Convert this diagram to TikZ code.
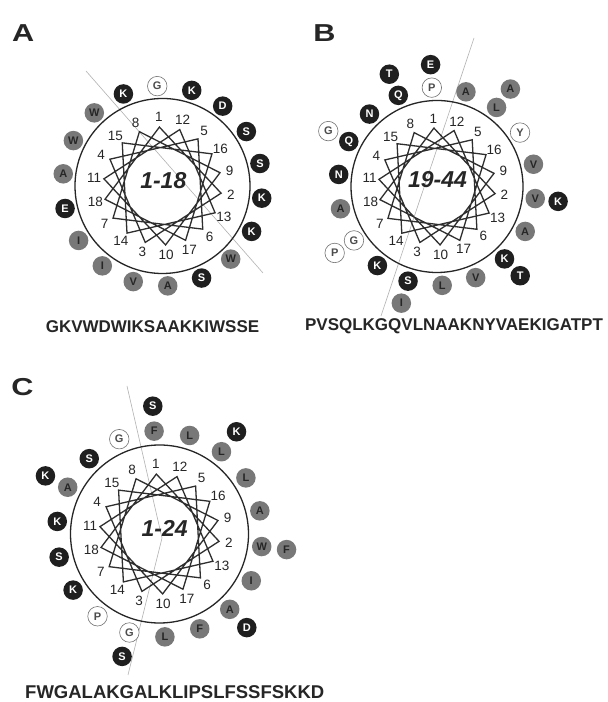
\documentclass[tikz,border=0pt]{standalone}
\usepackage{fontspec}
\setmainfont{Liberation Sans}
\begin{document}
\begin{tikzpicture}[x=1pt,y=1pt,
  res/.style={circle, minimum size=19.5pt, inner sep=0pt, font=\fontsize{11}{11}\selectfont\bfseries},
  rb/.style={res, fill=black!88, text=white},
  rg/.style={res, fill=black!53, text=black!85},
  rw/.style={res, fill=white, draw=black!55, line width=0.6pt, text=black!70},
  num/.style={font=\fontsize{13.5}{14}\selectfont, text=black!85, inner sep=0pt},
  wheel/.style={line width=1.3pt, draw=black!85},
  starline/.style={line width=1.3pt, draw=black!82, line join=miter},
  hline/.style={line width=0.6pt, draw=black!30},
  panel/.style={font=\fontsize{24.5}{24.5}\selectfont\bfseries, text=black!85, inner sep=0pt},
  seqtext/.style={font=\fontsize{17}{17}\selectfont\bfseries, text=black!85, inner sep=0pt},
  midlab/.style={font=\fontsize{23}{23}\selectfont\bfseries\itshape, text=black!85, inner sep=0pt}]
\useasboundingbox (0,0) rectangle (608,702);
\fill[white] (0,0) rectangle (608,702);

% ---------------- Panel A ----------------
\coordinate (A-h1) at (86,631);
\coordinate (A-h2) at (263,429);
\draw[hline] (A-h1) -- (A-h2);
\begin{scope}[shift={(162.5,516)}, rotate=3]
  \draw[wheel] (0,0) circle (87.5pt);
  \draw[starline] (90:59) \foreach \i in {1,...,17} { -- ({90-\i*100}:59) } -- cycle;
  \foreach \i in {1,...,18} \node[num] (A-n\i) at ({90-(\i-1)*100}:69) {\i};
  \foreach \i/\a/\s in {1/G/rw,2/K/rb,3/V/rg,4/W/rg,5/D/rb,6/W/rg,7/I/rg,8/K/rb,9/S/rb,
    10/A/rg,11/A/rg,12/K/rb,13/K/rb,14/I/rg,15/W/rg,16/S/rb,17/S/rb,18/E/rb}
    \node[\s] (A-r\i) at ({90-(\i-1)*100}:100) {\a};
\end{scope}
\node[midlab] (A-lab) at (163.3,521.2) {1-18};
\node[panel] (A-title) at (23.3,668.7) {\scalebox{1.25}[1]{A}};
\node[seqtext] (A-seq) at (152.5,375.3) {GKVWDWIKSAAKKIWSSE};

% ---------------- Panel B ----------------
\coordinate (B-h1) at (474,664);
\coordinate (B-h2) at (381,386);
\draw[hline] (B-h1) -- (B-h2);
\begin{scope}[shift={(437,515.5)}, rotate=3]
  \draw[wheel] (0,0) circle (86pt);
  \draw[starline] (90:58.5) \foreach \i in {1,...,17} { -- ({90-\i*100}:58.5) } -- cycle;
  \foreach \i in {1,...,18} \node[num] (B-n\i) at ({90-(\i-1)*100}:68) {\i};
  \foreach \i/\a/\s in {1/P/rw,2/V/rg,3/S/rb,4/Q/rb,5/L/rg,6/K/rb,7/G/rw,8/Q/rb,9/V/rg,
    10/L/rg,11/N/rb,12/A/rg,13/A/rg,14/K/rb,15/N/rb,16/Y/rw,17/V/rg,18/A/rg,
    19/E/rb,20/K/rb,21/I/rg,22/G/rw,23/A/rg,24/T/rb,25/P/rw,26/T/rb}
    \node[\s] (B-r\i) at ({90-(\i-1)*100}:{ifthenelse(\i>18,122,99)}) {\a};
\end{scope}
\node[midlab] (B-lab) at (437.5,522) {19-44};
\node[panel] (B-title) at (324.5,668.7) {\scalebox{1.25}[1]{B}};
\node[seqtext] (B-seq) at (454,375.5) {PVSQLKGQVLNAAKNYVAEKIGATPT};

% ---------------- Panel C ----------------
\coordinate (C-h1) at (127,316);
\coordinate (C-h2) at (162,164);
\coordinate (C-h3) at (128,27);
\draw[hline] (C-h1) -- (C-h2) -- (C-h3);
\begin{scope}[shift={(159.5,168)}, rotate=3]
  \draw[wheel] (0,0) circle (89pt);
  \draw[starline] (90:60) \foreach \i in {1,...,17} { -- ({90-\i*100}:60) } -- cycle;
  \foreach \i in {1,...,18} \node[num] (C-n\i) at ({90-(\i-1)*100}:70) {\i};
  \foreach \i/\a/\s in {1/F/rg,2/W/rg,3/G/rw,4/A/rg,5/L/rg,6/A/rg,7/K/rb,8/G/rw,9/A/rg,
    10/L/rg,11/K/rb,12/L/rg,13/I/rg,14/P/rw,15/S/rb,16/L/rg,17/F/rg,18/S/rb,
    19/S/rb,20/F/rg,21/S/rb,22/K/rb,23/K/rb,24/D/rb}
    \node[\s] (C-r\i) at ({90-(\i-1)*100}:{ifthenelse(\i>18,128,103)}) {\a};
\end{scope}
\node[midlab] (C-lab) at (164.7,173.7) {1-24};
\node[panel] (C-title) at (22.5,315.3) {\scalebox{1.25}[1]{C}};
\node[seqtext, anchor=west, font=\fontsize{18.5}{18.5}\selectfont\bfseries] (C-seq) at (25,10.3) {FWGALAKGALKLIPSLFSSFSKKD};
\end{tikzpicture}
\end{document}
